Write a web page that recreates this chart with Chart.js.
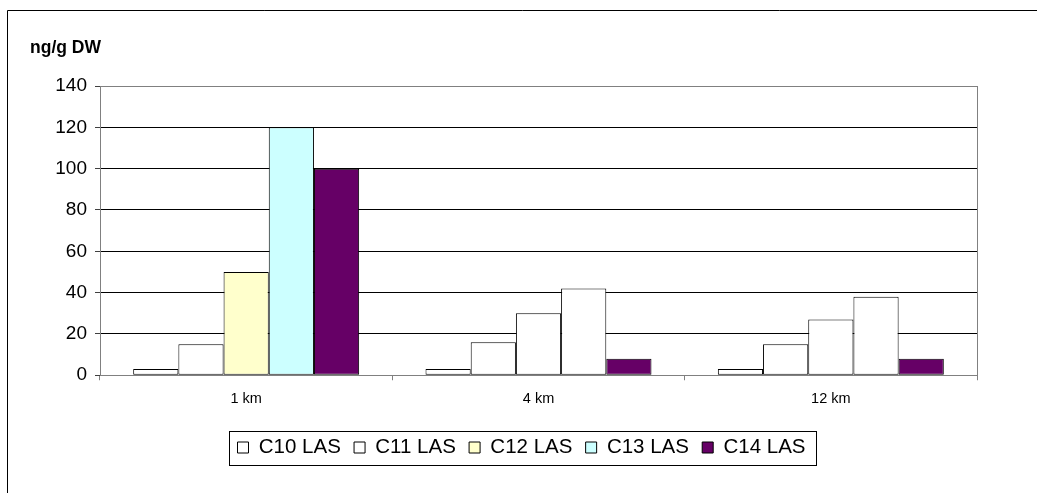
<!DOCTYPE html>
<html>
<head>
<meta charset="utf-8">
<title>LAS in sediment</title>
<script src="https://cdn.jsdelivr.net/npm/chart.js"></script>
<style>
  html, body { margin: 0; padding: 0; background: #fff; }
  #wrap { width: 1037px; height: 493px; position: relative; }
</style>
</head>
<body>
<div id="wrap"><canvas id="lasChart"></canvas></div>
<script>
// distance from outfall
const sites = ['1 km', '4 km', '12 km'];
const seriesNames = ['C10 LAS', 'C11 LAS', 'C12 LAS', 'C13 LAS', 'C14 LAS'];

// ng/g dry weight per homologue
const c10 = [3, 3, 3];
const c11 = [15, 16, 15];
const c12 = [50, 30, 27];
const c13 = [120, 42, 38];
const c14 = [100, 8, 8];

const yMax = 140;
const yStep = 20;

// fills: legend swatch per series, and per-bar fill (only 1 km has coloured C12/C13)
const legendFill = ['#FFFFFF', '#FFFFFF', '#FFFFCC', '#CCFFFF', '#660066'];
const barFill = [
  ['#FFFFFF', '#FFFFFF', '#FFFFFF'],
  ['#FFFFFF', '#FFFFFF', '#FFFFFF'],
  ['#FFFFCC', '#FFFFFF', '#FFFFFF'],
  ['#CCFFFF', '#FFFFFF', '#FFFFFF'],
  ['#660066', '#660066', '#660066']
];

const FONT = "'Liberation Sans', Arial, sans-serif";
Chart.defaults.font.family = FONT;
Chart.defaults.color = '#000';

const values = [c10, c11, c12, c13, c14];
const datasets = seriesNames.map((name, i) => ({
  label: name,
  data: values[i],
  backgroundColor: barFill[i],
  borderColor: '#000',
  borderWidth: 1,
  borderSkipped: false,
  categoryPercentage: 0.773,
  barPercentage: 1.0
}));

// white page, outer frame and the unit label
const frame = {
  id: 'frame',
  beforeDraw(chart) {
    const ctx = chart.ctx;
    ctx.save();
    ctx.fillStyle = '#fff';
    ctx.fillRect(0, 0, chart.width, chart.height);
    ctx.restore();
  },
  afterDraw(chart) {
    const ctx = chart.ctx;
    ctx.save();
    ctx.strokeStyle = '#000';
    ctx.lineWidth = 1;
    ctx.beginPath();
    ctx.moveTo(7.5, chart.height);
    ctx.lineTo(7.5, 10.5);
    ctx.lineTo(chart.width, 10.5);
    ctx.stroke();
    ctx.fillStyle = '#000';
    ctx.font = 'bold 17.5px ' + FONT;
    ctx.textBaseline = 'alphabetic';
    ctx.fillText('ng/g DW', 30, 53);
    ctx.restore();
  }
};

// centre the legend row a little right of the page centre
const legendShift = {
  id: 'legendShift',
  afterLayout(chart) {
    const lg = chart.legend;
    if (!lg) return;
    lg.left = 66;
    lg.right = chart.chartArea.right;
  }
};

// grey right edge of the plot area
const plotEdge = {
  id: 'plotEdge',
  beforeDatasetsDraw(chart) {
    const {ctx, chartArea: a} = chart;
    const x = Math.round(a.right) + 0.5;
    ctx.save();
    ctx.strokeStyle = '#808080';
    ctx.lineWidth = 1;
    ctx.beginPath();
    ctx.moveTo(x, a.top);
    ctx.lineTo(x, a.bottom);
    ctx.stroke();
    ctx.restore();
  }
};

// box around the legend row
const legendBox = {
  id: 'legendBox',
  afterDraw(chart) {
    const hb = chart.legend && chart.legend.legendHitBoxes;
    if (!hb || !hb.length) return;
    const first = hb[0], last = hb[hb.length - 1];
    const cy = first.top + first.height / 2;
    const x0 = Math.round(first.left - 9) + 0.5;
    const x1 = Math.round(last.left + last.width + 11) + 0.5;
    const y0 = Math.round(cy - 17) + 0.5;
    const y1 = Math.round(cy + 17) + 0.5;
    const ctx = chart.ctx;
    ctx.save();
    ctx.strokeStyle = '#000';
    ctx.lineWidth = 1;
    ctx.strokeRect(x0, y0, x1 - x0, y1 - y0);
    ctx.restore();
  }
};

new Chart(document.getElementById('lasChart'), {
  type: 'bar',
  data: { labels: sites, datasets: datasets },
  options: {
    responsive: true,
    maintainAspectRatio: false,
    animation: false,
    events: [],
    layout: { padding: { left: 10, right: 60, top: 86, bottom: 25.25 } },
    scales: {
      x: {
        grid: { display: true, drawOnChartArea: false, offset: true, tickLength: 5, color: '#808080' },
        border: { color: '#808080' },
        ticks: { font: { size: 14.5 }, padding: 10, color: '#000' },
        afterFit: s => { s.height = 48.75; }
      },
      y: {
        min: 0,
        max: yMax,
        ticks: { stepSize: yStep, font: { size: 19 }, padding: 8, color: '#000' },
        grid: {
          color: c => (c.tick && (c.tick.value === yMax || c.tick.value === 0)) ? '#808080' : '#000',
          tickColor: '#404040',
          tickLength: 5
        },
        border: { color: '#808080' },
        afterFit: s => { s.width = 90; }
      }
    },
    plugins: {
      tooltip: { enabled: false },
      legend: {
        position: 'bottom',
        labels: {
          font: { size: 20.5 },
          color: '#000',
          boxWidth: 11,
          boxHeight: 11,
          padding: 13.25,
          generateLabels: chart => chart.data.datasets.map((ds, i) => ({
            text: ds.label,
            fillStyle: legendFill[i],
            strokeStyle: '#000',
            lineWidth: 1,
            hidden: false,
            datasetIndex: i
          }))
        }
      }
    }
  },
  plugins: [frame, legendShift, plotEdge, legendBox]
});
</script>
</body>
</html>
